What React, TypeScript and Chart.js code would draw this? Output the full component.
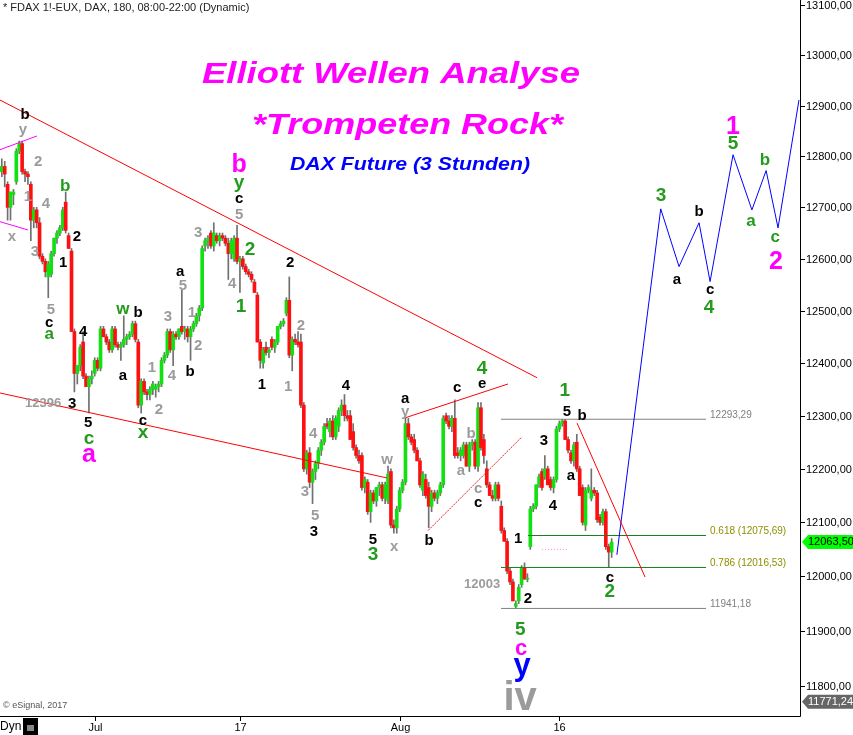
import React, { useEffect, useRef } from 'react';
import { Chart, registerables } from 'chart.js';
Chart.register(...registerables);

// ---- candle data (3h bars) ----
const opens = [
  12770,12780,12745,12700,12725,12750,12810,12825,12770,12765,
  12745,12675,12695,12670,12605,12595,12565,12570,12610,12640,
  12650,12660,12710,12645,12615,12460,12380,12395,12440,12375,
  12355,12370,12380,12405,12390,12465,12450,12440,12425,12465,
  12435,12430,12435,12445,12450,12455,12475,12440,12320,12365,
  12345,12340,12350,12350,12355,12360,12405,12415,12460,12425,
  12455,12450,12470,12460,12465,12450,12465,12475,12490,12505,
  12625,12635,12650,12625,12645,12635,12645,12640,12630,12610,
  12600,12640,12595,12600,12585,12575,12570,12555,12530,12440,
  12400,12430,12420,12445,12430,12440,12470,12475,12495,12520,
  12415,12445,12440,12440,12320,12200,12230,12175,12195,12210,
  12235,12250,12285,12270,12290,12260,12280,12310,12320,12300,
  12300,12270,12240,12225,12225,12165,12175,12120,12155,12140,
  12165,12170,12145,12140,12195,12095,12090,12125,12160,12175,
  12285,12260,12255,12235,12215,12160,12180,12165,12130,12155,
  12145,12155,12170,12300,12290,12280,12295,12230,12225,12225,
  12245,12205,12245,12250,12205,12315,12255,12200,12170,12150,
  12145,12170,12130,12085,12065,12010,11990,11945,11955,11985,
  12015,11995,12055,12125,12130,12170,12195,12185,12200,12180,
  12165,12180,12275,12285,12290,12255,12230,12215,12250,12200,
  12165,12095,12160,12145,12160,12155,12110,12100,12120,12055,12045,
];
const highs = [
  12795,12790,12750,12730,12735,12815,12830,12830,12775,12770,
  12750,12700,12700,12680,12610,12600,12595,12615,12640,12655,
  12665,12700,12730,12650,12620,12465,12395,12435,12460,12380,
  12375,12385,12410,12410,12470,12470,12455,12445,12470,12470,
  12440,12440,12490,12455,12460,12480,12480,12445,12370,12370,
  12350,12355,12365,12360,12365,12410,12420,12465,12465,12460,
  12460,12465,12540,12470,12470,12470,12480,12495,12510,12625,
  12640,12645,12655,12670,12650,12650,12650,12645,12640,12640,
  12645,12665,12605,12605,12590,12580,12575,12560,12535,12445,
  12430,12440,12430,12450,12445,12470,12480,12485,12525,12565,
  12450,12455,12460,12455,12325,12235,12240,12200,12215,12240,
  12255,12285,12295,12295,12300,12300,12315,12330,12340,12310,
  12310,12285,12245,12235,12230,12185,12180,12160,12160,12165,
  12175,12175,12175,12205,12200,12105,12130,12165,12180,12295,
  12295,12265,12265,12240,12220,12195,12190,12175,12160,12160,
  12160,12175,12300,12305,12300,12300,12330,12240,12240,12250,
  12250,12250,12255,12255,12325,12325,12265,12215,12175,12160,
  12175,12175,12140,12090,12070,12015,11995,11955,11985,12020,
  12025,12005,12130,12135,12170,12190,12200,12225,12205,12185,
  12185,12280,12290,12293.29,12293,12260,12235,12250,12265,12205,
  12170,12165,12170,12200,12165,12160,12115,12125,12125,12060,12070,
];
const lows = [
  12760,12740,12675,12675,12705,12745,12805,12765,12750,12745,
  12635,12660,12660,12600,12590,12565,12525,12565,12605,12630,
  12645,12655,12650,12620,12460,12345,12360,12385,12370,12355,
  12305,12360,12375,12385,12385,12450,12435,12420,12420,12430,
  12425,12405,12430,12435,12445,12450,12440,12315,12305,12340,
  12330,12330,12340,12335,12345,12355,12400,12410,12420,12395,
  12445,12445,12455,12445,12440,12405,12460,12470,12480,12500,
  12615,12620,12620,12615,12630,12625,12635,12625,12560,12600,
  12595,12590,12535,12580,12570,12565,12555,12535,12440,12390,
  12390,12415,12410,12425,12420,12435,12465,12470,12490,12410,
  12385,12435,12430,12315,12195,12190,12165,12135,12180,12200,
  12225,12245,12275,12260,12255,12255,12270,12300,12290,12290,
  12255,12235,12220,12210,12160,12155,12115,12100,12135,12130,
  12150,12140,12135,12135,12090,12080,12080,12120,12155,12170,
  12255,12245,12230,12215,12165,12150,12145,12090,12120,12140,
  12135,12150,12165,12285,12275,12270,12220,12220,12215,12220,
  12205,12195,12235,12200,12195,12235,12210,12165,12150,12140,
  12140,12140,12080,12065,12005,11985,11955,11941.18,11950,11980,
  11995,11990,12050,12120,12125,12165,12160,12180,12170,12160,
  12155,12175,12270,12280,12255,12230,12210,12205,12195,12150,
  12095,12085,12155,12140,12150,12100,12095,12095,12050,12016.53,12035,
];
const closes = [
  12780,12765,12700,12730,12730,12810,12825,12770,12765,12760,
  12675,12695,12670,12605,12595,12575,12590,12610,12640,12650,
  12660,12695,12655,12620,12460,12380,12395,12430,12375,12355,
  12370,12375,12405,12390,12465,12450,12440,12425,12465,12435,
  12430,12435,12445,12450,12455,12475,12445,12320,12365,12345,
  12340,12350,12360,12355,12360,12405,12415,12460,12425,12455,
  12450,12465,12460,12465,12450,12465,12475,12490,12505,12620,
  12635,12640,12625,12650,12635,12645,12640,12630,12610,12635,
  12640,12595,12600,12585,12575,12570,12560,12535,12440,12405,
  12425,12420,12425,12430,12440,12470,12475,12480,12520,12415,
  12445,12440,12435,12320,12200,12230,12175,12195,12210,12235,
  12250,12280,12280,12290,12260,12295,12310,12320,12300,12295,
  12255,12240,12225,12215,12165,12180,12120,12155,12140,12165,
  12170,12145,12170,12190,12095,12090,12125,12160,12175,12285,
  12260,12250,12235,12215,12170,12190,12150,12130,12155,12145,
  12155,12170,12295,12290,12280,12295,12225,12225,12235,12245,
  12205,12245,12250,12205,12315,12240,12225,12170,12150,12145,
  12170,12145,12085,12065,12010,11990,11955,11950,11980,12015,
  11995,11995,12125,12130,12170,12185,12165,12200,12170,12165,
  12180,12275,12285,12290,12255,12235,12215,12245,12200,12150,
  12100,12160,12165,12160,12155,12105,12100,12120,12055,12045,12063.5,
];

// ---- axes ----
const dateTickIndex = [32, 82, 137, 192];
const dateTickLabels = ['Jul', '17', 'Aug', '16'];
const priceTicks = [11800, 11900, 12000, 12100, 12200, 12300, 12400, 12500, 12600, 12700, 12800, 12900, 13000, 13100];
const lastPrice = 12063.5;
const lowMarker = 11771.24;
const X_MIN = -0.62;
const X_MAX = 274.86;
const Y_MIN = 11745.5;
const Y_MAX = 13111;

// ---- drawn lines [index, price] ----
const pinkUpper = [[-0.62, 12813], [12.1, 12840]];
const pinkLower = [[-0.62, 12672], [9.0, 12656]];
const redUpper = [[-0.62, 12911], [184.3, 12372]];
const redLower = [[-0.62, 12343], [132.6, 12183]];
const redAC = [[138.9, 12296], [174.3, 12360]];
const thinB = [[146.8, 12085], [179.1, 12260]];
const redC = [[198.1, 12286], [221.5, 11999]];
const pinkDots = [[186, 12050], [195, 12050]];
const projIndex = [211.8, 226.9, 233.2, 240.1, 243.9, 251.8, 258.3, 263.2, 267.3, 274.5];
const projPrice = [12040, 12697, 12585, 12670, 12556, 12803, 12695, 12772, 12660, 12911];

// ---- levels ----
const levelValues = [12293.29, 12075.69, 12016.53, 11941.18];
const levelTexts = ['12293,29', '0.618 (12075,69)', '0.786 (12016,53)', '11941,18'];
const levelStart = [171.9, 181.2, 171.9, 171.9];
const levelEnd = 242.5;

// ---- wave labels [text, index, price] ----
const blackLabels = [
  ['b', 8.0, 12882], ['2', 25.9, 12643], ['1', 21.1, 12592], ['c', 16.3, 12477], ['4', 28.0, 12460],
  ['3', 24.2, 12322], ['5', 29.7, 12286], ['a', 41.7, 12375], ['b', 46.9, 12496], ['c', 48.6, 12290],
  ['a', 61.4, 12575], ['b', 64.8, 12383], ['c', 81.7, 12716], ['2', 99.3, 12592], ['1', 89.6, 12358],
  ['4', 118.5, 12356], ['3', 107.5, 12083], ['5', 127.8, 12068], ['a', 138.9, 12332], ['c', 156.8, 12353],
  ['e', 165.4, 12360], ['b', 147.1, 12066], ['c', 164.0, 12137], ['1', 177.8, 12070], ['2', 181.2, 11959],
  ['5', 194.6, 12307], ['b', 199.8, 12300], ['3', 186.7, 12253], ['a', 196.0, 12187], ['4', 189.8, 12131],
  ['c', 209.4, 11997], ['a', 232.5, 12559], ['b', 240.1, 12692], ['c', 243.9, 12540],
];
const greyLabels = [
  ['y', 7.3, 12852], ['2', 12.5, 12789], ['1', 9.0, 12720], ['4', 15.2, 12706], ['x', 3.5, 12643],
  ['3', 11.4, 12613], ['5', 16.9, 12502], ['1', 51.7, 12391], ['2', 54.1, 12311], ['3', 57.2, 12488],
  ['4', 58.6, 12375], ['5', 62.4, 12548], ['1', 65.5, 12496], ['2', 67.6, 12433], ['3', 67.6, 12651],
  ['4', 79.3, 12552], ['5', 81.7, 12686], ['1', 98.6, 12355], ['2', 103.0, 12471], ['4', 107.2, 12266],
  ['3', 104.4, 12157], ['5', 107.9, 12113], ['w', 132.7, 12217], ['x', 135.1, 12055], ['y', 138.9, 12307],
  ['b', 161.6, 12266], ['a', 158.1, 12196], ['c', 164.0, 12163],
];
const greyNumbers = [['12396', 14.2, 12324], ['12003', 165.4, 11985]];
const greenLabels = [
  ['b', 21.8, 12742], ['a', 16.3, 12454], ['w', 41.7, 12503],
  ['a', 258.0, 12673], ['b', 262.8, 12793], ['c', 266.3, 12641],
];
const greenBigLabels = [
  ['c', 30.0, 12256], ['x', 48.6, 12268], ['y', 81.7, 12748], ['2', 85.5, 12617], ['1', 82.4, 12507],
  ['3', 127.8, 12040], ['4', 165.4, 12389], ['1', 193.9, 12347], ['2', 209.4, 11972], ['5', 178.5, 11902],
  ['3', 227.0, 12722], ['4', 243.5, 12505], ['5', 251.8, 12825],
];
const magentaLabels = [
  ['a', 30.0, 12225], ['b', 81.7, 12783], ['1', 251.8, 12858], ['2', 266.6, 12594],
];
const magentaSmallLabels = [['c', 178.8, 11868]];
const blueLabels = [['y', 179.2, 11836]];
const greyBigLabels = [['iv', 178.5, 11776]];

const FONT = '"Liberation Sans", Arial, sans-serif';
const GREEN = '#12e012';
const RED = '#ff1010';
const WAVE_GREEN = '#239b1c';

function lineDs(pts: number[][], color: string, dash: number[] = []) {
  return {
    type: 'line',
    data: pts.map(([x, y]) => ({ x, y })),
    borderColor: color,
    borderWidth: 1,
    borderDash: dash,
    pointRadius: 0,
    fill: false,
    tension: 0,
    order: 0,
  };
}

function fitText(ctx: CanvasRenderingContext2D, text: string, font: string, left: number, right: number, baseline: number) {
  ctx.font = font;
  const w = ctx.measureText(text).width;
  ctx.save();
  ctx.translate((left + right) / 2, baseline);
  ctx.scale((right - left) / w, 1);
  ctx.textAlign = 'center';
  ctx.textBaseline = 'alphabetic';
  ctx.fillText(text, 0, 0);
  ctx.restore();
}

const overlay = {
  id: 'overlay',
  afterDraw(chart: any) {
    const { ctx, chartArea } = chart;
    const xs = chart.scales.x;
    const ys = chart.scales.y;
    const R = chartArea.right;
    const B = chartArea.bottom;
    ctx.save();

    // level texts
    ctx.font = '10px ' + FONT;
    ctx.textAlign = 'left';
    ctx.textBaseline = 'bottom';
    levelValues.forEach((v, i) => {
      ctx.fillStyle = i === 1 || i === 2 ? '#8f8f00' : '#808080';
      ctx.fillText(levelTexts[i], xs.getPixelForValue(levelEnd) + 4, ys.getPixelForValue(v) + 1);
    });

    const drawGroup = (arr: any[], color: string, font: string) => {
      ctx.font = font;
      ctx.fillStyle = color;
      ctx.textAlign = 'center';
      ctx.textBaseline = 'middle';
      arr.forEach(([t, i, p]) => ctx.fillText(t, xs.getPixelForValue(i), ys.getPixelForValue(p)));
    };
    drawGroup(greyLabels, '#9b9b9b', 'bold 15px ' + FONT);
    drawGroup(greyNumbers, '#9b9b9b', 'bold 13px ' + FONT);
    drawGroup(blackLabels, '#000000', 'bold 15px ' + FONT);
    drawGroup(greenLabels, WAVE_GREEN, 'bold 17px ' + FONT);
    drawGroup(greenBigLabels, WAVE_GREEN, 'bold 19px ' + FONT);
    drawGroup(magentaLabels, '#ff00ff', 'bold 25px ' + FONT);
    drawGroup(magentaSmallLabels, '#ff00ff', 'bold 22px ' + FONT);
    drawGroup(blueLabels, '#0000ff', 'bold 31px ' + FONT);
    drawGroup(greyBigLabels, '#9b9b9b', 'bold 40px ' + FONT);

    // titles
    ctx.fillStyle = '#ff00ff';
    fitText(ctx, 'Elliott Wellen Analyse', 'italic bold 29px ' + FONT, 202, 580, 83);
    fitText(ctx, '*Trompeten Rock*', 'italic bold 30px ' + FONT, 252, 563, 134);
    ctx.fillStyle = '#0000ff';
    fitText(ctx, 'DAX Future (3 Stunden)', 'italic bold 18px ' + FONT, 290, 530, 170);

    // header / footer
    ctx.textAlign = 'left';
    ctx.fillStyle = '#222';
    ctx.font = '11px ' + FONT;
    ctx.textBaseline = 'middle';
    ctx.fillText('* FDAX 1!-EUX, DAX, 180, 08:00-22:00 (Dynamic)', 3, 8);
    ctx.fillStyle = '#555';
    ctx.font = '9px ' + FONT;
    ctx.fillText('\u00A9 eSignal, 2017', 3, 706);

    // axes
    ctx.strokeStyle = '#000';
    ctx.lineWidth = 1;
    ctx.beginPath();
    ctx.moveTo(R + 0.5, 0);
    ctx.lineTo(R + 0.5, B + 0.5);
    ctx.lineTo(0, B + 0.5);
    ctx.stroke();
    ctx.font = '11px ' + FONT;
    ctx.fillStyle = '#000';
    ctx.textBaseline = 'middle';
    ctx.textAlign = 'left';
    priceTicks.forEach((p) => {
      const py = Math.round(ys.getPixelForValue(p)) + 0.5;
      ctx.beginPath();
      ctx.moveTo(R, py);
      ctx.lineTo(R + 5, py);
      ctx.stroke();
      ctx.fillText(p.toFixed(2).replace('.', ','), R + 6, py);
    });
    ctx.textAlign = 'center';
    dateTickIndex.forEach((d, k) => {
      const px = Math.round(xs.getPixelForValue(d)) + 0.5;
      ctx.beginPath();
      ctx.moveTo(px, B);
      ctx.lineTo(px, B + 5);
      ctx.stroke();
      ctx.fillText(dateTickLabels[k], px, B + 12);
    });

    // price boxes
    const box = (p: number, bg: string, fg: string) => {
      const py = ys.getPixelForValue(p);
      ctx.fillStyle = bg;
      ctx.beginPath();
      ctx.moveTo(R + 2, py);
      ctx.lineTo(R + 8, py - 7);
      ctx.lineTo(853, py - 7);
      ctx.lineTo(853, py + 7);
      ctx.lineTo(R + 8, py + 7);
      ctx.closePath();
      ctx.fill();
      ctx.fillStyle = fg;
      ctx.textAlign = 'left';
      ctx.fillText(p.toFixed(2).replace('.', ','), R + 8, py);
    };
    box(lastPrice, '#00ff00', '#000');
    box(lowMarker, '#666666', '#ffffff');

    // Dyn
    ctx.fillStyle = '#000';
    ctx.font = '12px ' + FONT;
    ctx.textAlign = 'left';
    ctx.fillText('Dyn', 0, 727);
    ctx.fillRect(23, 718, 15, 17);
    ctx.fillStyle = '#888';
    ctx.fillRect(27, 725, 7, 6);
    ctx.restore();
  },
};

export default function App() {
  const ref = useRef<HTMLCanvasElement | null>(null);
  useEffect(() => {
    const idx = opens.map((_, i) => i);
    const chart = new Chart(ref.current as HTMLCanvasElement, {
      type: 'bar',
      data: {
        datasets: [
          {
            type: 'bar',
            data: idx.map((i) => ({ x: i, y: [lows[i], highs[i]] })),
            backgroundColor: '#707070',
            barThickness: 1,
            grouped: false,
            order: 3,
          } as any,
          {
            type: 'bar',
            data: idx.map((i) => ({ x: i, y: [Math.min(opens[i], closes[i]), Math.max(opens[i], closes[i])] })),
            backgroundColor: idx.map((i) => (closes[i] >= opens[i] ? GREEN : RED)),
            barThickness: 3,
            minBarLength: 1,
            grouped: false,
            order: 2,
          } as any,
          lineDs(pinkUpper, '#ff00ff'),
          lineDs(pinkLower, '#ff00ff'),
          lineDs(redUpper, '#ff0000'),
          lineDs(redLower, '#ff0000'),
          lineDs(redAC, '#ff0000'),
          lineDs(thinB, '#dd2222', [2, 1]),
          lineDs(redC, '#ff0000'),
          lineDs(pinkDots, '#ff88ff', [1, 2]),
          lineDs(projIndex.map((x, i) => [x, projPrice[i]]), '#0000ff'),
          ...levelValues.map((v, i) =>
            lineDs([[levelStart[i], v], [levelEnd, v]], i === 1 || i === 2 ? '#1c7d1c' : '#808080')
          ),
        ] as any,
      },
      options: {
        responsive: false,
        animation: false,
        devicePixelRatio: 1,
        events: [],
        layout: { padding: { left: 0, top: 0, right: 53, bottom: 19 } },
        plugins: { legend: { display: false }, tooltip: { enabled: false } },
        scales: {
          x: { type: 'linear', min: X_MIN, max: X_MAX, display: false, offset: false },
          y: { type: 'logarithmic', min: Y_MIN, max: Y_MAX, display: false },
        },
      } as any,
      plugins: [overlay],
    });
    return () => chart.destroy();
  }, []);
  return (
    <div style={{ position: 'fixed', left: 0, top: 0, width: 853, height: 735, background: '#fff' }}>
      <canvas ref={ref} width={853} height={735} style={{ width: 853, height: 735, display: 'block' }} />
    </div>
  );
}
